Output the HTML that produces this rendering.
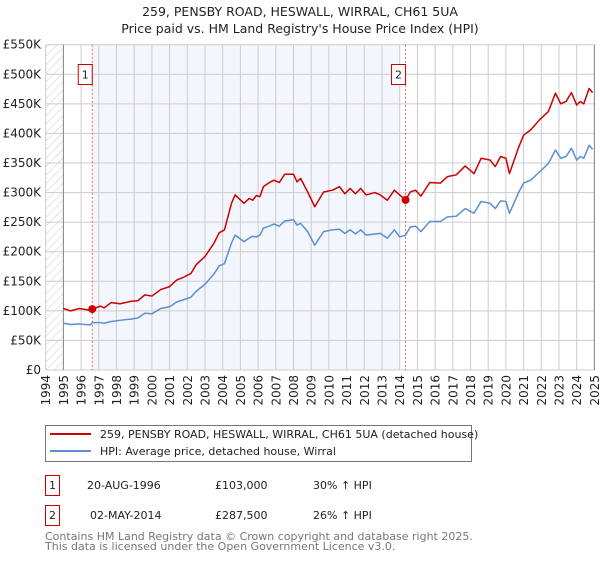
<!DOCTYPE html>
<html><head><meta charset="utf-8"><style>
body{margin:0;background:#fff;width:600px;height:560px;overflow:hidden;font-family:"DejaVu Sans","Liberation Sans",sans-serif}
svg text{font-family:"DejaVu Sans","Liberation Sans",sans-serif}
</style></head><body>
<svg id="chart" width="600" height="560" viewBox="0 0 600 560" xmlns="http://www.w3.org/2000/svg">
<defs><pattern id="hatch" width="6" height="6" patternUnits="userSpaceOnUse" patternTransform="rotate(45)"><line x1="0" y1="0" x2="0" y2="6" stroke="#ccc" stroke-width="1"/></pattern></defs>
<text x="300" y="16" text-anchor="middle" font-size="12.5" fill="#222">259, PENSBY ROAD, HESWALL, WIRRAL, CH61 5UA</text>
<text x="300" y="33" text-anchor="middle" font-size="12.5" fill="#222">Price paid vs. HM Land Registry's House Price Index (HPI)</text>
<g id="plot"></g>
<g>
<rect x="45.5" y="425.5" width="426" height="36" fill="#fff" stroke="#777"/>
<line x1="50" y1="434" x2="91" y2="434" stroke="#cc0000" stroke-width="2"/>
<text x="100" y="438" font-size="11" fill="#222">259, PENSBY ROAD, HESWALL, WIRRAL, CH61 5UA (detached house)</text>
<line x1="50" y1="451" x2="91" y2="451" stroke="#5b8fd4" stroke-width="2"/>
<text x="100" y="455" font-size="11" fill="#222">HPI: Average price, detached house, Wirral</text>
</g>
<g font-size="11" fill="#222">
<rect x="45.5" y="475.5" width="14" height="20" fill="#fff" stroke="#cc0000"/>
<text x="52.5" y="489" text-anchor="middle">1</text>
<text x="87" y="489">20-AUG-1996</text><text x="215" y="489">£103,000</text><text x="313" y="489">30% ↑ HPI</text>
<rect x="45.5" y="505.5" width="14" height="20" fill="#fff" stroke="#cc0000"/>
<text x="52.5" y="519" text-anchor="middle">2</text>
<text x="90" y="519">02-MAY-2014</text><text x="215" y="519">£287,500</text><text x="313" y="519">26% ↑ HPI</text>
</g>
<g font-size="11" fill="#777">
<text x="45" y="540">Contains HM Land Registry data © Crown copyright and database right 2025.</text>
<text x="45" y="550">This data is licensed under the Open Government Licence v3.0.</text>
</g>
</svg>
<script>
const dates=[1995.0,1995.4,1995.9,1996.5,1996.63,1997.1,1997.3,1997.7,1998.2,1998.8,1999.2,1999.6,2000.0,2000.5,2001.0,2001.4,2001.8,2002.2,2002.5,2003.0,2003.5,2003.8,2004.1,2004.5,2004.7,2005.2,2005.5,2005.7,2005.9,2006.1,2006.3,2006.7,2006.9,2007.2,2007.5,2008.0,2008.2,2008.4,2008.8,2009.2,2009.7,2010.2,2010.6,2010.9,2011.2,2011.5,2011.8,2012.1,2012.6,2012.9,2013.3,2013.7,2014.0,2014.33,2014.6,2014.9,2015.2,2015.7,2016.3,2016.7,2017.2,2017.7,2018.2,2018.6,2019.1,2019.4,2019.7,2020.0,2020.2,2020.7,2021.0,2021.4,2021.9,2022.4,2022.8,2023.1,2023.4,2023.7,2024.0,2024.2,2024.4,2024.7,2024.9];
const priceSeries=[104,100,104,101,103,108,105,114,112,116,117,127,125,136,141,152,157,163,178,192,214,232,237,282,296,282,290,287,295,293,310,318,321,317,331,331,318,324,301,276,301,304,310,298,307,298,307,296,300,296,287,304,296,287.5,301,304,294,317,316,327,330,345,332,358,355,344,361,358,332,375,397,406,423,437,468,450,454,469,448,454,450,476,469];
const hpiSeries=[79,77,78,76,80,80,79,82,84,86,88,96,95,104,107,115,119,123,133,145,162,176,180,215,228,217,223,226,225,228,240,244,247,243,252,254,245,248,234,211,234,237,238,231,237,230,237,228,230,231,223,237,225,228,242,243,234,251,251,259,260,273,265,285,282,273,286,285,265,299,316,321,335,349,372,358,361,375,355,361,358,380,373];
const yTicks=[0,50,100,150,200,250,300,350,400,450,500,550];
const yTickLabels=["£0","£50K","£100K","£150K","£200K","£250K","£300K","£350K","£400K","£450K","£500K","£550K"];
const xTicks=[1994,1995,1996,1997,1998,1999,2000,2001,2002,2003,2004,2005,2006,2007,2008,2009,2010,2011,2012,2013,2014,2015,2016,2017,2018,2019,2020,2021,2022,2023,2024,2025];
const sales=[{n:"1",t:1996.63,v:103},{n:"2",t:2014.33,v:287.5}];
const X0=45.7,X1=594.4,Y0=370,Y1=44.7;
const x=t=>X0+(t-1994)/(2025-1994)*(X1-X0);
const y=v=>Y0-(v/550)*(Y0-Y1);
const NS="http://www.w3.org/2000/svg";
const g=document.getElementById('plot');
function mk(tag,attrs,parent){const e=document.createElementNS(NS,tag);for(const k in attrs)e.setAttribute(k,attrs[k]);(parent||g).appendChild(e);return e;}
let r;
r=mk('rect',{x:X0,y:Y1,width:x(1995)-X0,height:Y0-Y1,fill:'url(#hatch)'});


r=mk('rect',{x:x(sales[0].t),y:Y1,width:x(2014.0)-x(sales[0].t),height:Y0-Y1,fill:'#f3f6fd'});


yTicks.forEach((v,i)=>{
 const l=mk('line',{x1:X0,x2:X1,y1:y(v),y2:y(v),stroke:'#ccc','stroke-width':1});
 
 
 const t=mk('text',{x:41,y:y(v)+4,'text-anchor':'end','font-size':12,fill:'#222'});
 t.textContent=yTickLabels[i];
 
 
});
xTicks.forEach(yr=>{
 const l=mk('line',{x1:x(yr),x2:x(yr),y1:Y1,y2:Y0,stroke:'#ccc','stroke-width':1});
 
 
 const t=mk('text',{x:0,y:0,'text-anchor':'end','font-size':12,fill:'#222',transform:`translate(${x(yr)+4.5},375) rotate(-90)`});
 t.textContent=yr;
 
 
});
r=mk('line',{x1:x(1995),x2:x(1995),y1:Y1,y2:Y0,stroke:'#888','stroke-width':1});


r=mk('line',{x1:X1,x2:X1,y1:Y1,y2:Y0,stroke:'#888','stroke-width':1});


sales.forEach(s=>{
 const l=mk('line',{x1:x(s.t),x2:x(s.t),y1:Y1,y2:Y0,stroke:'#e06060','stroke-width':1,'stroke-dasharray':'2,2'});
 
 
 const b=mk('rect',{x:x(s.t)-14,y:64.5,width:14,height:20,fill:'#fff',stroke:'#cc0000'});
 
 
 const t=mk('text',{x:x(s.t)-7,y:78.5,'text-anchor':'middle','font-size':11,fill:'#222'});
 t.textContent=s.n;
 
 
});
function line(vals,color,name){
 const p=mk('polyline',{points:dates.map((d,i)=>x(d)+','+y(vals[i])).join(' '),fill:'none',stroke:color,'stroke-width':1.5,'stroke-linejoin':'round'});
 
 
}
line(hpiSeries,'#5b8fd4','hpi-line');
line(priceSeries,'#cc0000','price-line');
sales.forEach(s=>{
 const c=mk('circle',{cx:x(s.t),cy:y(s.v),r:4,fill:'#cc0000'});
 
 
});
</script>
</body></html>
